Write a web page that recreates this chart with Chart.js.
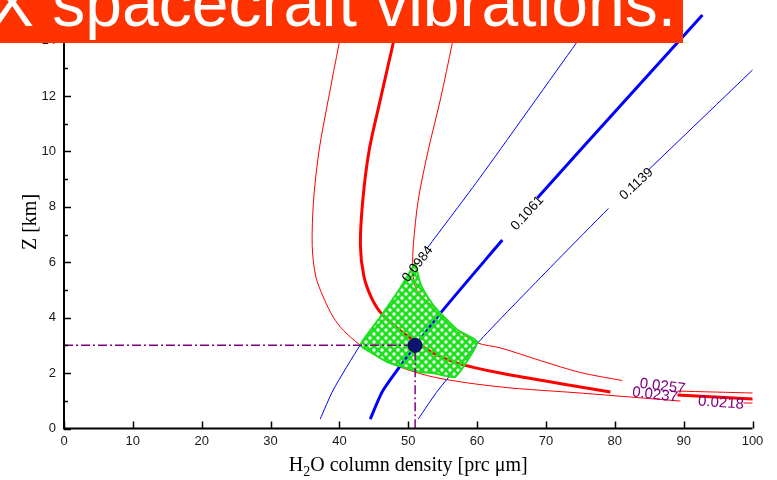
<!DOCTYPE html>
<html>
<head>
<meta charset="utf-8">
<script src="https://cdn.jsdelivr.net/npm/chart.js@4.4.0/dist/chart.umd.min.js"></script>
<style>
  html, body { margin: 0; padding: 0; background: #ffffff; }
  #wrap { width: 777px; height: 480px; position: relative; }
</style>
</head>
<body>
<div id="wrap"><canvas id="c" width="777" height="480"></canvas></div>
<script>
// ---- axis ticks ----
const xTickValues = [0, 10, 20, 30, 40, 50, 60, 70, 80, 90, 100];
const xTickLabels = ['0', '10', '20', '30', '40', '50', '60', '70', '80', '90', '100'];
const yTickValues = [0, 2, 4, 6, 8, 10, 12, 14];
const yTickLabels = ['0', '2', '4', '6', '8', '10', '12', '14'];
const yMinorTickValues = [1, 3, 5, 7, 9, 11, 13, 15];

// ---- red contours (null = break for the inline label) ----
const red0218 = [
  {x: 40.84, y: 15.0}, {x: 39.97, y: 13.91}, {x: 38.37, y: 11.85}, {x: 37.06, y: 10.05},
  {x: 36.25, y: 8.24}, {x: 36.05, y: 6.6}, {x: 36.55, y: 5.5}, {x: 37.65, y: 4.75},
  {x: 39.10, y: 4.02}, {x: 40.55, y: 3.55}, {x: 43.02, y: 3.01}, {x: 46.95, y: 2.40},
  {x: 53.63, y: 1.86}, {x: 63.37, y: 1.50}, {x: 75.0, y: 1.28}, {x: 89.53, y: 0.99},
  {x: 92.0, y: null},
  {x: 98.69, y: 0.92}, {x: 100.15, y: 0.92}
];
const red0237 = [
  {x: 48.84, y: 15.0}, {x: 47.82, y: 13.91}, {x: 45.93, y: 11.85}, {x: 44.33, y: 10.05},
  {x: 43.40, y: 8.24}, {x: 43.05, y: 6.6}, {x: 43.55, y: 5.5}, {x: 44.6, y: 4.75},
  {x: 45.93, y: 4.20}, {x: 48.40, y: 3.62}, {x: 50.73, y: 3.19}, {x: 53.63, y: 2.72},
  {x: 57.12, y: 2.36}, {x: 63.37, y: 2.00}, {x: 75.0, y: 1.50}, {x: 79.36, y: 1.32},
  {x: 84.0, y: null},
  {x: 89.1, y: 1.21}, {x: 100.15, y: 1.06}
];
const red0257 = [
  {x: 57.27, y: 15.0}, {x: 56.40, y: 13.91}, {x: 54.65, y: 11.85}, {x: 52.91, y: 10.05},
  {x: 51.45, y: 8.24}, {x: 50.73, y: 6.6}, {x: 50.65, y: 5.8}, {x: 51.02, y: 5.11},
  {x: 52.47, y: 4.64}, {x: 54.22, y: 4.28}, {x: 57.12, y: 3.56}, {x: 60.03, y: 3.09},
  {x: 63.37, y: 2.91}, {x: 69.2, y: 2.45}, {x: 75.0, y: 2.02}, {x: 81.10, y: 1.73},
  {x: 85.0, y: null},
  {x: 89.1, y: 1.35}, {x: 100.15, y: 1.28}
];

// ---- blue contours ----
const blue0984 = [
  {x: 37.21, y: 0.34}, {x: 39.10, y: 1.39}, {x: 43.02, y: 3.01}, {x: 45.93, y: 4.02},
  {x: 48.84, y: 5.07},
  {x: 50.5, y: null},
  {x: 52.76, y: 6.51}, {x: 60.47, y: 9.07}, {x: 74.42, y: 13.91}, {x: 77.62, y: 15.0}
];
const blue1061 = [
  {x: 44.48, y: 0.34}, {x: 46.37, y: 1.39}, {x: 54.22, y: 4.02}, {x: 63.66, y: 6.80},
  {x: 66.0, y: null},
  {x: 68.75, y: 8.32}, {x: 75.0, y: 10.05}, {x: 92.73, y: 14.92}
];
const blue1139 = [
  {x: 51.45, y: 0.34}, {x: 54.36, y: 1.39}, {x: 60.47, y: 3.19}, {x: 71.66, y: 6.07},
  {x: 79.07, y: 7.94},
  {x: 82.0, y: null},
  {x: 84.88, y: 9.33}, {x: 100.15, y: 12.97}
];

// ---- overlap region bounded by the four contours ----
const regionX = [51.02, 51.74, 52.91, 54.22, 57.12, 60.03, 56.83, 53.63, 51.74, 46.95, 44.48, 43.02, 45.93, 48.84, 51.02];
const regionY = [5.97, 5.25, 4.71, 4.28, 3.56, 3.12, 1.86, 2.00, 2.04, 2.40, 2.76, 3.01, 4.02, 5.07, 5.97];

// ---- retrieved solution ----
const solutionX = 51;   // column density
const solutionY = 3;    // altitude

// ---- inline contour labels ----
const levelLabels = ['0.0984', '0.1061', '0.1139', '0.0257', '0.0237', '0.0218'];
const levelLabelX = [51.38, 67.30, 83.14, 86.92, 85.83, 95.42];
const levelLabelY = [5.93, 7.77, 8.82, 1.52, 1.21, 0.92];

const regionPoints = regionX.map((v, i) => ({x: v, y: regionY[i]}));
const crossLines = [{x: 0, y: solutionY}, {x: solutionX, y: solutionY}, {x: solutionX, y: 0}];

// green cross-hatch fill with open cells
function makeHatch(ctx, color) {
  const t = document.createElement('canvas');
  t.width = 8; t.height = 8;
  const g = t.getContext('2d');
  g.fillStyle = color;
  g.fillRect(0, 0, 8, 8);
  g.globalCompositeOperation = 'destination-out';
  g.beginPath(); g.arc(2, 2, 1.7, 0, Math.PI * 2); g.fill();
  g.beginPath(); g.arc(6, 6, 1.7, 0, Math.PI * 2); g.fill();
  return ctx.createPattern(t, 'repeat');
}

const canvas = document.getElementById('c');
const ctx0 = canvas.getContext('2d');
const hatch = makeHatch(ctx0, '#1fe01f');

const labelStyles = [
  {color: '#000000', size: 13.5, angle: -52},
  {color: '#000000', size: 13.5, angle: -48},
  {color: '#000000', size: 13.5, angle: -43},
  {color: '#800080', size: 15, angle: 7},
  {color: '#800080', size: 15, angle: 7},
  {color: '#800080', size: 15, angle: 4}
];

const decorPlugin = {
  id: 'decor',
  afterDatasetsDraw(chart) {
    const {ctx, scales: {x, y}} = chart;
    ctx.save();
    levelLabels.forEach((txt, i) => {
      const st = labelStyles[i];
      ctx.save();
      ctx.translate(x.getPixelForValue(levelLabelX[i]), y.getPixelForValue(levelLabelY[i]));
      ctx.rotate(st.angle * Math.PI / 180);
      ctx.font = st.size + 'px "Liberation Sans", Arial, sans-serif';
      ctx.fillStyle = st.color;
      ctx.textAlign = 'center';
      ctx.textBaseline = 'middle';
      ctx.fillText(txt, 0, 0);
      ctx.restore();
    });
    ctx.restore();
  },
  afterDraw(chart) {
    const {ctx, chartArea: a, scales: {x, y}} = chart;
    const y0 = y.getPixelForValue(0);
    ctx.save();
    // axis lines
    ctx.strokeStyle = '#000000';
    ctx.lineWidth = 2;
    ctx.beginPath();
    ctx.moveTo(a.left, a.top);
    ctx.lineTo(a.left, y0);
    ctx.lineTo(a.right, y0);
    ctx.stroke();
    // inward tick marks
    ctx.lineWidth = 1.5;
    ctx.beginPath();
    xTickValues.forEach(v => {
      const px = Math.round(x.getPixelForValue(v)) + 0.5;
      ctx.moveTo(px, y0); ctx.lineTo(px, y0 - 7);
    });
    yTickValues.forEach(v => {
      const py = Math.round(y.getPixelForValue(v)) + 0.5;
      ctx.moveTo(a.left, py); ctx.lineTo(a.left + 7, py);
    });
    yMinorTickValues.forEach(v => {
      const py = Math.round(y.getPixelForValue(v)) + 0.5;
      ctx.moveTo(a.left, py); ctx.lineTo(a.left + 4, py);
    });
    ctx.stroke();
    // tick labels
    ctx.fillStyle = '#1a1a1a';
    ctx.font = '13px "Liberation Sans", Arial, sans-serif';
    ctx.textAlign = 'center';
    ctx.textBaseline = 'middle';
    xTickValues.forEach((v, i) => ctx.fillText(xTickLabels[i], x.getPixelForValue(v), y0 + 13));
    ctx.textAlign = 'right';
    yTickValues.forEach((v, i) => ctx.fillText(yTickLabels[i], a.left - 8, y.getPixelForValue(v)));
    // axis titles
    ctx.fillStyle = '#000000';
    ctx.font = '20px "Liberation Serif", "Times New Roman", serif';
    ctx.save();
    ctx.translate(31, 222);
    ctx.rotate(-Math.PI / 2);
    ctx.textAlign = 'center';
    ctx.textBaseline = 'middle';
    ctx.fillText('Z [km]', 0, 0);
    ctx.restore();
    const main = '20px "Liberation Serif", "Times New Roman", serif';
    const sub = '14px "Liberation Serif", "Times New Roman", serif';
    const p1 = 'H', p2 = '2', p3 = 'O column density [prc \u03bcm]';
    ctx.textAlign = 'left';
    ctx.textBaseline = 'alphabetic';
    ctx.font = main; const w1 = ctx.measureText(p1).width, w3 = ctx.measureText(p3).width;
    ctx.font = sub; const w2 = ctx.measureText(p2).width;
    let tx = (a.left + a.right) / 2 - (w1 + w2 + w3) / 2;
    const ty = 471;
    ctx.font = main; ctx.fillText(p1, tx, ty); tx += w1;
    ctx.font = sub; ctx.fillText(p2, tx, ty + 5); tx += w2;
    ctx.font = main; ctx.fillText(p3, tx, ty);
    // title banner
    ctx.fillStyle = '#ff3300';
    ctx.fillRect(0, 0, 683, 43);
    ctx.fillStyle = '#ffffff';
    ctx.font = '66px "Liberation Sans", Arial, sans-serif';
    ctx.textAlign = 'left';
    ctx.textBaseline = 'alphabetic';
    ctx.fillText('X spacecraft vibrations.', -10, 26);
    ctx.restore();
  }
};

const lineDefaults = {pointRadius: 0, fill: false, spanGaps: false};

new Chart(canvas, {
  type: 'line',
  data: {
    datasets: [
      Object.assign({}, lineDefaults, {label: 'solution', data: [{x: solutionX, y: solutionY}], showLine: false, pointRadius: 7, pointHoverRadius: 7, pointBackgroundColor: '#0c1470', pointBorderColor: '#050a50', pointBorderWidth: 1, order: 0}),
      Object.assign({}, lineDefaults, {label: 'cross', data: crossLines, borderColor: '#800080', borderWidth: 1.5, borderDash: [9, 3, 2, 3], tension: 0, order: 1}),
      Object.assign({}, lineDefaults, {label: 'region', data: regionPoints, borderColor: '#1fe01f', borderWidth: 2, backgroundColor: hatch, fill: 'shape', tension: 0.15, order: 2}),
      Object.assign({}, lineDefaults, {label: '0.0984', data: blue0984, borderColor: '#0000ff', borderWidth: 1, tension: 0.2, order: 3}),
      Object.assign({}, lineDefaults, {label: '0.1061', data: blue1061, borderColor: '#0000ff', borderWidth: 3, tension: 0.2, order: 3}),
      Object.assign({}, lineDefaults, {label: '0.1139', data: blue1139, borderColor: '#0000ff', borderWidth: 1, tension: 0.2, order: 3}),
      Object.assign({}, lineDefaults, {label: '0.0218', data: red0218, borderColor: '#ff0000', borderWidth: 1, tension: 0.3, order: 3}),
      Object.assign({}, lineDefaults, {label: '0.0237', data: red0237, borderColor: '#ff0000', borderWidth: 3, tension: 0.3, order: 3}),
      Object.assign({}, lineDefaults, {label: '0.0257', data: red0257, borderColor: '#ff0000', borderWidth: 1, tension: 0.3, order: 3})
    ]
  },
  options: {
    responsive: false,
    animation: false,
    devicePixelRatio: 1,
    layout: {padding: {left: 64, right: 24.5, top: 12.8, bottom: 51.5}},
    scales: {
      x: {type: 'linear', min: 0, max: 100, display: false},
      y: {type: 'linear', min: 0, max: 15, display: false}
    },
    plugins: {legend: {display: false}, tooltip: {enabled: false}, title: {display: false}}
  },
  plugins: [decorPlugin]
});
</script>
</body>
</html>
